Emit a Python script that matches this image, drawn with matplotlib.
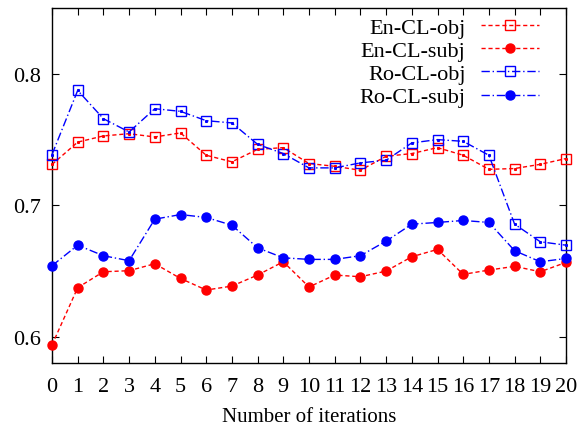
import matplotlib
matplotlib.use("Agg")
import matplotlib.pyplot as plt

iterations = list(range(21))
en_cl_obj = [0.731, 0.748, 0.7527, 0.7544, 0.7519, 0.755, 0.738, 0.733, 0.7425, 0.7438,
             0.7317, 0.7296, 0.7266, 0.7372, 0.7393, 0.7438, 0.738, 0.7273, 0.7279, 0.7311, 0.7355]
en_cl_subj = [0.5937, 0.6373, 0.6494, 0.6502, 0.6555, 0.6443, 0.6355, 0.6385, 0.6469, 0.657,
              0.6378, 0.6469, 0.6456, 0.6499, 0.6608, 0.6664, 0.6474, 0.6507, 0.6535, 0.6494, 0.6565]
ro_cl_obj = [0.7385, 0.7873, 0.7658, 0.7557, 0.7734, 0.7714, 0.7643, 0.7626, 0.7463, 0.7393,
             0.7284, 0.7284, 0.7322, 0.7342, 0.7474, 0.7499, 0.7486, 0.738, 0.6856, 0.6722, 0.6696]
ro_cl_subj = [0.654, 0.6696, 0.6616, 0.6578, 0.6894, 0.6929, 0.6907, 0.6848, 0.6676, 0.66,
              0.6588, 0.6588, 0.6616, 0.6727, 0.6856, 0.6869, 0.6884, 0.6869, 0.6654, 0.657, 0.6595]
y_ticks = [0.6, 0.7, 0.8]

plt.rcParams['font.family'] = ['Liberation Serif', 'DejaVu Serif']
plt.rcParams['font.size'] = 16

fig = plt.figure(figsize=(5.81, 4.27), dpi=100)
ax = fig.add_axes([52/581, 1-364/427, (566-52)/581, (364-9)/427])

red = '#ff0000'
blue = '#0000ff'
lw = 1.0
ax.plot(iterations, en_cl_obj, color=red, ls=(0, (3, 2)), lw=lw, marker='s', ms=7,
        mfc='none', mec=red, mew=1.0, label='En-CL-obj', clip_on=False, zorder=3)
ax.plot(iterations, en_cl_subj, color=red, ls=(0, (3, 2)), lw=lw, marker='o', ms=6.5,
        mfc=red, mec=red, label='En-CL-subj', clip_on=False, zorder=3)
ax.plot(iterations, ro_cl_obj, color=blue, ls=(0, (6, 2, 1, 2)), lw=lw, marker='s', ms=7,
        mfc='none', mec=blue, mew=1.0, label='Ro-CL-obj', clip_on=False, zorder=3)
ax.plot(iterations, ro_cl_subj, color=blue, ls=(0, (6, 2, 1, 2)), lw=lw, marker='o', ms=6.5,
        mfc=blue, mec=blue, label='Ro-CL-subj', clip_on=False, zorder=3)
# center dots in hollow squares
ax.plot(iterations, en_cl_obj, ls='none', marker='s', ms=1.2, color=red, clip_on=False, zorder=4)
ax.plot(iterations, ro_cl_obj, ls='none', marker='s', ms=1.2, color=blue, clip_on=False, zorder=4)

ax.set_xlim(0, 20)
ax.set_ylim(0.58, 0.85)
ax.set_xticks(iterations)
ax.set_yticks(y_ticks)
ax.set_yticklabels(['0.6', '0.7', '0.8'])
ax.tick_params(direction='in', length=5, width=0.8, top=True, right=True, pad=8)
ax.tick_params(axis='x', pad=10)
for s in ax.spines.values():
    s.set_linewidth(1.0)
ax.set_xlabel('Number of iterations', fontsize=15, labelpad=8)

leg = ax.legend(loc='upper right', bbox_to_anchor=(0.973, 1.012), frameon=False,
                markerfirst=False, handlelength=2.6, handletextpad=0.7,
                labelspacing=0.12, borderaxespad=0.2, fontsize=16)

fig.savefig('out.png', dpi=100)
